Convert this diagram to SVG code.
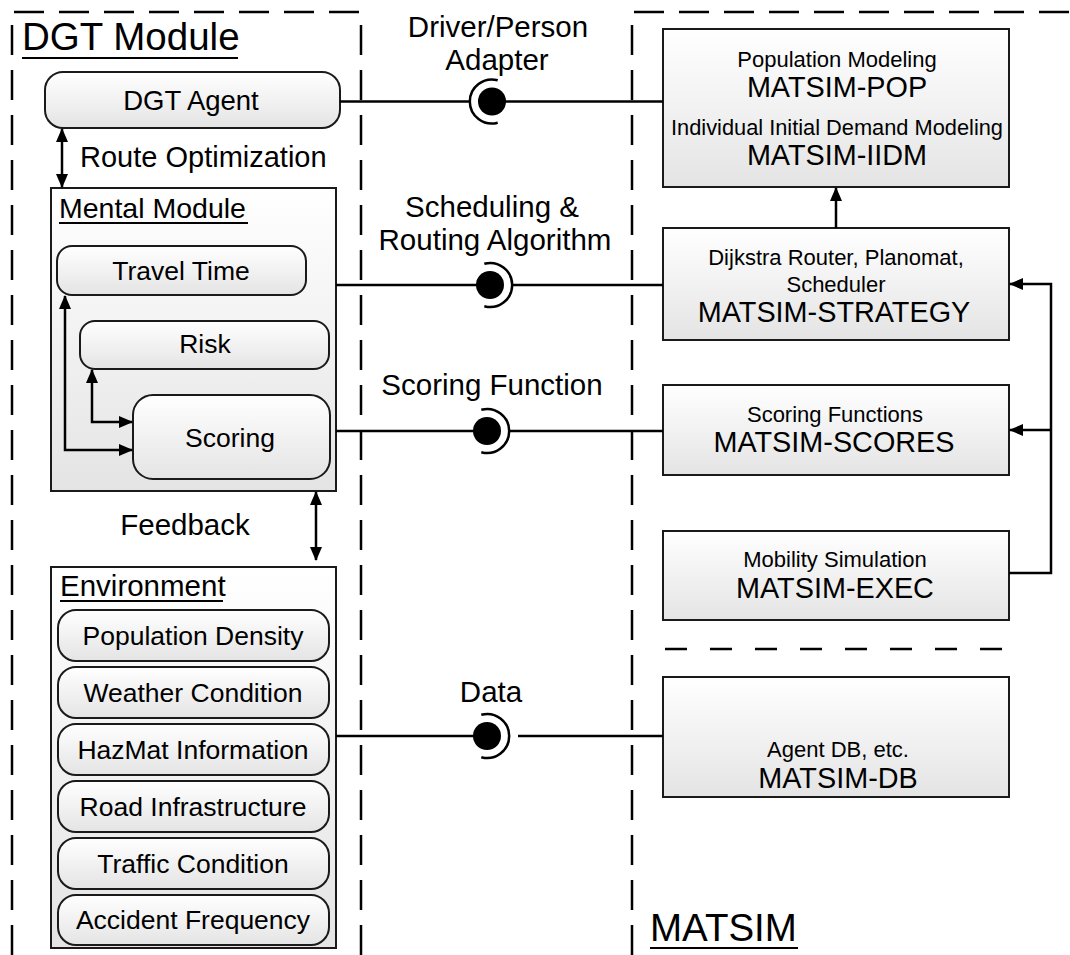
<svg xmlns="http://www.w3.org/2000/svg" width="1070" height="955" viewBox="0 0 1070 955">
<defs>
<linearGradient id="g" x1="0" y1="0" x2="0" y2="1"><stop offset="0" stop-color="#ffffff"/><stop offset="1" stop-color="#e4e4e4"/></linearGradient>
<marker id="a" viewBox="0 0 14 12" refX="13" refY="6" markerWidth="14" markerHeight="12" markerUnits="userSpaceOnUse" orient="auto-start-reverse"><path d="M0,0 L14,6 L0,12 z" fill="#000"/></marker>
<style>
text{font-family:"Liberation Sans",Arial,sans-serif;fill:#000}
.box{fill:url(#g);stroke:#1a1a1a;stroke-width:2}
.dash{fill:none;stroke:#000;stroke-width:2.5;stroke-dasharray:30 15}
.ln{fill:none;stroke:#000;stroke-width:2.5}
.ul{stroke:#000;stroke-width:2.2}
.t26{font-size:26.5px;text-anchor:middle}
.t22{font-size:22px;text-anchor:middle}
.t28{font-size:28.8px;text-anchor:middle}
.lbl{font-size:29.5px;text-anchor:middle}
.ball{fill:#000}
.sock{fill:none;stroke:#000;stroke-width:2.5}
</style>
</defs>

<g id="boundaries">
<path class="dash" d="M12,955 V12 H361 V955"/>
<path class="dash" d="M632,955 V12 H1070"/>
<path class="dash" d="M665,649 H1012" style="stroke-dasharray:22 23"/>
</g>

<g id="dgt-title">
<text x="22" y="50" style="font-size:38.5px">DGT Module</text>
<line class="ul" x1="22" y1="58" x2="238" y2="58"/>
</g>

<g id="dgt-agent">
<rect class="box" x="45" y="72" width="295" height="56" rx="18"/>
<text class="t26" x="191" y="110" style="font-size:27.5px">DGT Agent</text>
</g>

<g id="mental-module">
<rect class="box" x="51" y="188" width="285" height="303"/>
<text x="59" y="218" style="font-size:28.5px">Mental Module</text>
<line class="ul" x1="59" y1="223" x2="248" y2="223"/>
</g>

<g id="travel-time">
<rect class="box" x="57" y="246" width="249" height="49" rx="15"/>
<text class="t26" x="181" y="280">Travel Time</text>
</g>

<g id="risk">
<rect class="box" x="80" y="321" width="249" height="48" rx="15"/>
<text class="t26" x="205" y="353">Risk</text>
</g>

<g id="scoring">
<rect class="box" x="133" y="395" width="197" height="84" rx="20"/>
<text class="t26" x="230" y="447">Scoring</text>
</g>

<g id="environment">
<rect class="box" x="51" y="567" width="285" height="381"/>
<text x="60" y="596" style="font-size:29.5px">Environment</text>
<line class="ul" x1="60" y1="601" x2="223" y2="601"/>
</g>

<g id="population-density">
<rect class="box" x="58" y="610" width="271" height="51" rx="18"/>
<text class="t26" x="193" y="645">Population Density</text>
</g>
<g id="weather-condition">
<rect class="box" x="58" y="667" width="271" height="51" rx="18"/>
<text class="t26" x="193" y="702">Weather Condition</text>
</g>
<g id="hazmat-information">
<rect class="box" x="58" y="724" width="271" height="51" rx="18"/>
<text class="t26" x="193" y="759">HazMat Information</text>
</g>
<g id="road-infrastructure">
<rect class="box" x="58" y="781" width="271" height="51" rx="18"/>
<text class="t26" x="193" y="816">Road Infrastructure</text>
</g>
<g id="traffic-condition">
<rect class="box" x="58" y="838" width="271" height="51" rx="18"/>
<text class="t26" x="193" y="873">Traffic Condition</text>
</g>
<g id="accident-frequency">
<rect class="box" x="58" y="895" width="271" height="50" rx="18"/>
<text class="t26" x="193" y="929">Accident Frequency</text>
</g>

<g id="matsim-pop">
<rect class="box" x="663" y="29" width="346" height="158"/>
<text class="t22" x="837" y="67">Population Modeling</text>
<text class="t28" x="837" y="97">MATSIM-POP</text>
<text class="t22" x="837" y="135" style="font-size:21.8px">Individual Initial Demand Modeling</text>
<text class="t28" x="837" y="165">MATSIM-IIDM</text>
</g>

<g id="matsim-strategy">
<rect class="box" x="663" y="228" width="346" height="112"/>
<text class="t22" x="836" y="265">Dijkstra Router, Planomat,</text>
<text class="t22" x="836" y="292">Scheduler</text>
<text class="t28" x="834" y="322">MATSIM-STRATEGY</text>
</g>

<g id="matsim-scores">
<rect class="box" x="663" y="385" width="346" height="90"/>
<text class="t22" x="835" y="422">Scoring Functions</text>
<text class="t28" x="834" y="452">MATSIM-SCORES</text>
</g>

<g id="matsim-exec">
<rect class="box" x="663" y="531" width="346" height="89"/>
<text class="t22" x="835" y="567">Mobility Simulation</text>
<text class="t28" x="835" y="598">MATSIM-EXEC</text>
</g>

<g id="matsim-db">
<rect class="box" x="663" y="677" width="346" height="120"/>
<text class="t22" x="838" y="757">Agent DB, etc.</text>
<text class="t28" x="838" y="788">MATSIM-DB</text>
</g>

<g id="matsim-title">
<text x="650" y="941" style="font-size:38.5px">MATSIM</text>
<line class="ul" x1="650" y1="948" x2="798" y2="948"/>
</g>

<g id="connectors">
<path class="ln" d="M62,129 V187" marker-start="url(#a)" marker-end="url(#a)"/>
<path class="ln" d="M316,492 V560" marker-start="url(#a)" marker-end="url(#a)"/>
<path class="ln" d="M65,296 V450 H132" marker-start="url(#a)" marker-end="url(#a)"/>
<path class="ln" d="M92,370 V422 H132" marker-start="url(#a)" marker-end="url(#a)"/>

<path class="ln" d="M340,101.5 H470"/>
<path class="ln" d="M492,101.5 H663"/>
<path class="sock" d="M497.7,80.3 A22,22 0 1,0 497.7,122.7"/>
<circle class="ball" cx="492" cy="101.5" r="14"/>

<path class="ln" d="M336,285 H490"/>
<path class="ln" d="M512,285 H663"/>
<path class="sock" d="M484.3,263.8 A22,22 0 1,1 484.3,306.2"/>
<circle class="ball" cx="490" cy="285" r="14"/>

<path class="ln" d="M336,431 H487"/>
<path class="ln" d="M509,431 H663"/>
<path class="sock" d="M481.3,409.8 A22,22 0 1,1 481.3,452.2"/>
<circle class="ball" cx="487" cy="431" r="14"/>

<path class="ln" d="M336,736 H487"/>
<path class="ln" d="M518,736 H663"/>
<path class="sock" d="M481.3,714.8 A22,22 0 1,1 481.3,757.2"/>
<circle class="ball" cx="487" cy="736" r="14"/>

<path class="ln" d="M836,228 V188" marker-end="url(#a)"/>
<path class="ln" d="M1009,573 H1051 V284 H1010" marker-end="url(#a)"/>
<path class="ln" d="M1051,430 H1010" marker-end="url(#a)"/>
</g>

<g id="labels">
<text x="80" y="167" style="font-size:29px">Route Optimization</text>
<text class="lbl" x="185" y="535">Feedback</text>
<text class="lbl" x="498" y="37">Driver/Person</text>
<text class="lbl" x="497" y="70">Adapter</text>
<text class="lbl" x="492" y="217">Scheduling &amp;</text>
<text class="lbl" x="495" y="250">Routing Algorithm</text>
<text class="lbl" x="492" y="395">Scoring Function</text>
<text class="lbl" x="491" y="702">Data</text>
</g>
</svg>
